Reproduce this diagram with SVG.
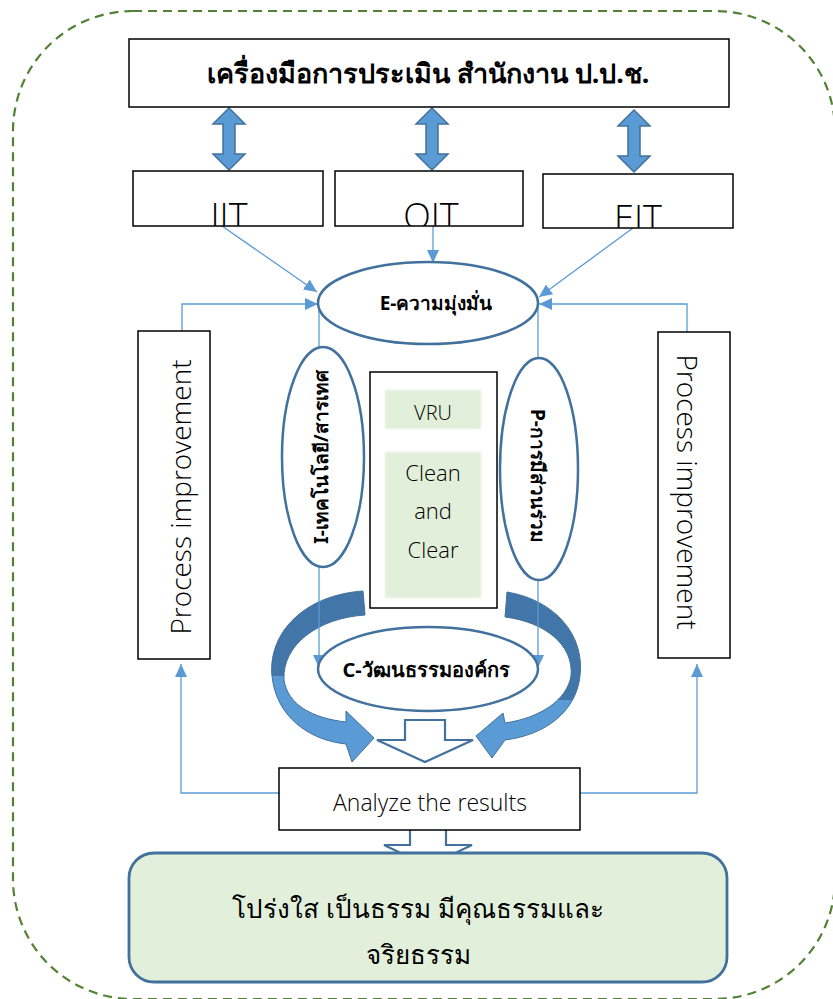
<svg xmlns="http://www.w3.org/2000/svg" width="833" height="999" viewBox="0 0 833 999">
<defs>
<style>
.box{fill:#fff;stroke:#000;stroke-width:1.5}
.ell{fill:#fff;stroke:#41719c;stroke-width:2.5}
.conn{fill:none;stroke:#5b9bd5;stroke-width:1.3}
.dbl{fill:#5b9bd5;stroke:#41719c;stroke-width:1.5}
.hollow{fill:#fff;stroke:#41719c;stroke-width:2.2}
.band{stroke:#41719c;stroke-width:1}
.th{font-family:"Noto Sans","DejaVu Sans",sans-serif;fill:#000}
.en{font-family:"Open Sans","Liberation Sans",sans-serif;font-weight:300;fill:#000}
.green{fill:#e2efda}
</style>
<marker id="ah" markerWidth="13" markerHeight="12" refX="13" refY="6" orient="auto" markerUnits="userSpaceOnUse"><path d="M0,0 L13,6 L0,12 Z" fill="#5b9bd5"/></marker>
<linearGradient id="gl" gradientUnits="userSpaceOnUse" x1="0" y1="590" x2="0" y2="765">
<stop offset="0" stop-color="#4275a8"/><stop offset="0.49" stop-color="#4275a8"/><stop offset="0.49" stop-color="#5b9bd5"/><stop offset="1" stop-color="#5b9bd5"/>
</linearGradient>
<linearGradient id="gr" gradientUnits="userSpaceOnUse" x1="0" y1="590" x2="0" y2="765">
<stop offset="0" stop-color="#4275a8"/><stop offset="0.63" stop-color="#4275a8"/><stop offset="0.63" stop-color="#5b9bd5"/><stop offset="1" stop-color="#5b9bd5"/>
</linearGradient>
<filter id="soft" x="-5%" y="-5%" width="110%" height="110%"><feGaussianBlur stdDeviation="1.2"/></filter>
<clipPath id="c1"><rect x="133" y="171" width="190" height="55"/></clipPath>
<clipPath id="c2"><rect x="335" y="171" width="188" height="55"/></clipPath>
<clipPath id="c3"><rect x="543" y="174" width="190" height="54"/></clipPath>
</defs>
<rect width="833" height="999" fill="#fff"/>
<rect x="13" y="11" width="822" height="988" rx="120" ry="120" fill="none" stroke="#538135" stroke-width="2.2" stroke-dasharray="9 6"/>

<g id="cycle-arrows">
<path class="band" fill="url(#gl)" d="M363,591 C305,595 268,632 272,676 C276,716 308,740 346,744 L352,762 L374,738 L346,711 L346,722 C312,718 288,705 284,680 C282,645 318,618 365,615 Z"/>
<path class="band" fill="url(#gr)" d="M507,592 C555,600 585,635 580,676 C576,712 545,735 505,740 L492,758 L476,736 L503,713 L505,723 C540,718 567,700 571,676 C574,645 545,622 505,617 Z"/>
</g>

<g id="connectors">
<line class="conn" x1="222" y1="226" x2="317" y2="292" marker-end="url(#ah)"/>
<line class="conn" x1="433" y1="226" x2="433" y2="263" marker-end="url(#ah)"/>
<line class="conn" x1="633" y1="228" x2="539" y2="297" marker-end="url(#ah)"/>
<polyline class="conn" points="182,350 182,304 318,304" marker-end="url(#ah)"/>
<polyline class="conn" points="687,350 687,304 539,304" marker-end="url(#ah)"/>
<line class="conn" x1="319" y1="303" x2="319" y2="668" marker-end="url(#ah)"/>
<line class="conn" x1="538" y1="303" x2="538" y2="668" marker-end="url(#ah)"/>
<polyline class="conn" points="279,793 181,793 181,664" marker-end="url(#ah)"/>
<polyline class="conn" points="580,793 697,793 697,664" marker-end="url(#ah)"/>
<polygon class="dbl" points="229,108 245,124 235,124 235,154 245,154 229,170 213,154 223,154 223,124 213,124"/>
<polygon class="dbl" points="432,108 448,124 438,124 438,154 448,154 432,170 416,154 426,154 426,124 416,124"/>
<polygon class="dbl" points="634,110 650,126 640,126 640,156 650,156 634,172 618,156 628,156 628,126 618,126"/>
<polygon class="hollow" points="405,720 445,720 445,740 473,740 425,762 377,740 405,740"/>
<polygon class="hollow" points="410,825 446,825 446,845 472,845 428,866 384,845 410,845"/>
</g>

<g id="tool">
<rect class="box" x="129" y="39" width="600" height="68"/>
<text class="th" x="428" y="83" font-size="27" font-weight="bold" text-anchor="middle">เครื่องมือการประเมิน สำนักงาน ป.ป.ช.</text>
</g>
<g id="iit">
<rect class="box" x="133" y="171" width="190" height="55"/>
<text class="en" clip-path="url(#c1)" x="229" y="229" font-size="36" text-anchor="middle">IIT</text>
</g>
<g id="oit">
<rect class="box" x="335" y="171" width="188" height="55"/>
<text class="en" clip-path="url(#c2)" x="431" y="229" font-size="36" text-anchor="middle">OIT</text>
</g>
<g id="eit">
<rect class="box" x="543" y="174" width="190" height="54"/>
<text class="en" clip-path="url(#c3)" x="638" y="231" font-size="36" text-anchor="middle">EIT</text>
</g>

<g id="e-node">
<ellipse class="ell" cx="428" cy="303" rx="110" ry="41"/>
<text class="th" x="436" y="310" font-size="19" font-weight="bold" text-anchor="middle">E-ความมุ่งมั่น</text>
</g>
<g id="i-node">
<ellipse class="ell" cx="323" cy="457" rx="41" ry="110"/>
<text class="th" transform="translate(321,457) rotate(-90)" x="0" y="0" font-size="19" font-weight="bold" text-anchor="middle" dominant-baseline="central">I-เทคโนโลยี/สารเทศ</text>
</g>
<g id="p-node">
<ellipse class="ell" cx="539" cy="469" rx="39" ry="111"/>
<text class="th" transform="translate(538,476) rotate(90)" x="0" y="0" font-size="19" font-weight="bold" text-anchor="middle" dominant-baseline="central">P-การมีส่วนร่วม</text>
</g>
<g id="center-box">
<rect class="box" x="370" y="372" width="127" height="236"/>
<rect class="green" x="385" y="390" width="96" height="39" filter="url(#soft)"/>
<rect class="green" x="385" y="452" width="96" height="146" filter="url(#soft)"/>
<text class="en" x="433" y="420" font-size="20" text-anchor="middle">VRU</text>
<text class="en" x="433" y="481" font-size="22" text-anchor="middle">Clean</text>
<text class="en" x="433" y="519" font-size="22" text-anchor="middle">and</text>
<text class="en" x="433" y="558" font-size="22" text-anchor="middle">Clear</text>
</g>
<g id="c-node">
<ellipse class="ell" cx="428" cy="669" rx="110" ry="42"/>
<text class="th" x="426" y="677" font-size="20" font-weight="bold" text-anchor="middle">C-วัฒนธรรมองค์กร</text>
</g>
<g id="pi-left">
<rect class="box" x="138" y="331" width="72" height="328"/>
<text class="en" transform="translate(180,497) rotate(-90)" font-size="28" text-anchor="middle" dominant-baseline="central">Process improvement</text>
</g>
<g id="pi-right">
<rect class="box" x="658" y="332" width="72" height="326"/>
<text class="en" transform="translate(688,492) rotate(90)" font-size="28" text-anchor="middle" dominant-baseline="central">Process improvement</text>
</g>
<g id="analyze">
<rect class="box" x="279" y="768" width="301" height="62"/>
<text class="en" x="430" y="811" font-size="23" text-anchor="middle">Analyze the results</text>
</g>
<g id="outcome">
<rect x="129" y="853" width="598" height="129" rx="25" ry="25" fill="#e2efda" stroke="#41719c" stroke-width="2.8"/>
<text class="th" x="418" y="918" font-size="26" text-anchor="middle">โปร่งใส เป็นธรรม มีคุณธรรมและ</text>
<text class="th" x="418" y="964" font-size="26" text-anchor="middle">จริยธรรม</text>
</g>
</svg>
